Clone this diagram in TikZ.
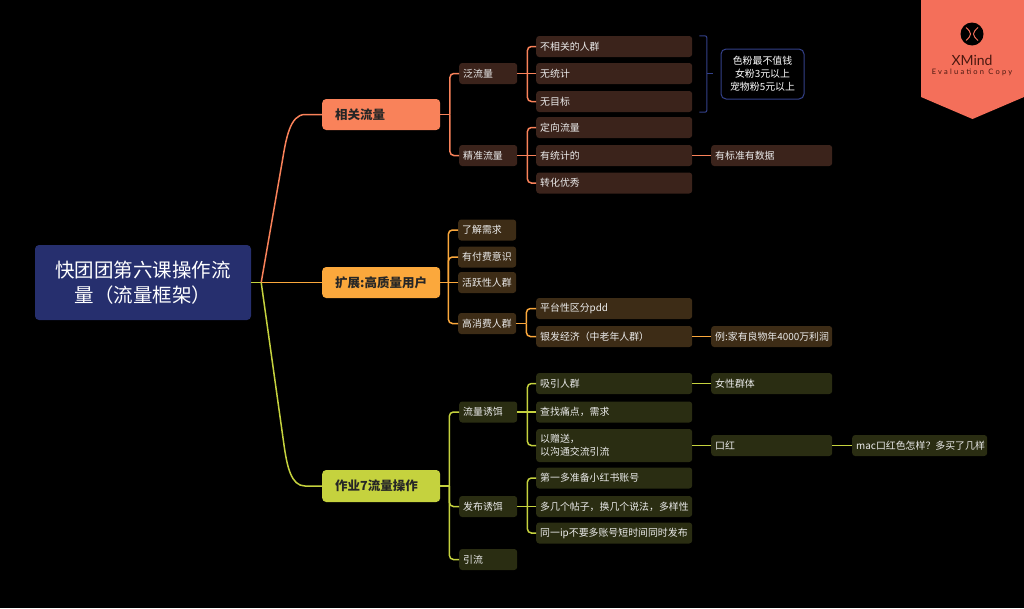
\documentclass[tikz,border=0pt]{standalone}
\usepackage{fontspec}
\newfontfamily\cjk{Noto Sans CJK SC}
\newfontfamily\xmfont{Lato}
\definecolor{bgC}{HTML}{000000}
\definecolor{rootC}{HTML}{262F6E}
\definecolor{colA}{HTML}{F9825A}
\definecolor{colB}{HTML}{FBA83C}
\definecolor{colC}{HTML}{C5D23E}
\definecolor{brA}{HTML}{3B231B}
\definecolor{brB}{HTML}{3D2C16}
\definecolor{brC}{HTML}{2A2D12}
\definecolor{bracketC}{HTML}{34418A}
\definecolor{badgeC}{HTML}{F46F5A}
\definecolor{badgeT}{HTML}{4A1810}
\tikzset{
  rootbox/.style={fill=rootC, rounded corners=4pt, minimum width=216pt, minimum height=75pt,
    inner sep=0pt, text=white, align=center, font=\cjk\fontsize{19.5}{25}\selectfont},
  topic/.style={rounded corners=4pt, anchor=west, minimum height=31pt, inner xsep=13pt,
    inner ysep=0pt, text width=92pt, align=left, text=black!85,
    font=\cjk\bfseries\fontsize{12.5}{15}\selectfont},
  subn/.style={rounded corners=3pt, anchor=west, minimum height=21pt, inner xsep=4pt,
    inner ysep=0pt, align=left, text=white!92!black, font=\cjk\fontsize{9.9}{13}\selectfont},
  wa/.style={text width=50pt},
  wb/.style={text width=148pt},
  wc/.style={text width=113pt},
  wd/.style={text width=127pt},
  sA/.style={subn, fill=brA},
  sB/.style={subn, fill=brB},
  sC/.style={subn, fill=brC},
  lnA/.style={draw=colA, line width=1.5pt},
  lnB/.style={draw=colB, line width=1.5pt},
  lnC/.style={draw=colC, line width=1.5pt},
  bus/.style={rounded corners=4pt},
}
\begin{document}
\begin{tikzpicture}[x=1pt,y=-1pt]
\fill[bgC] (0,0) rectangle (1024,608);
\useasboundingbox (0,0) rectangle (1024,608);

% root
\node[rootbox] (root) at (143,282.5) {快团团第六课操作流\\量（流量框架）};

% main topics
\node[topic, fill=colA] (t1) at (322,114.5) {相关流量};
\node[topic, fill=colB] (t2) at (322,282.5) {扩展:高质量用户};
\node[topic, fill=colC, minimum height=32pt] (t3) at (322,486) {作业7流量操作};

% branch A
\node[sA, wa] (a1) at (459,73.5) {泛流量};
\node[sA, wa] (a2) at (459,155.5) {精准流量};
\node[sA, wb] (a11) at (536,46.5) {不相关的人群};
\node[sA, wb] (a12) at (536,73.5) {无统计};
\node[sA, wb] (a13) at (536,101.5) {无目标};
\node[sA, wb] (a21) at (536,127.5) {定向流量};
\node[sA, wb] (a22) at (536,155.5) {有统计的};
\node[sA, wb] (a23) at (536,183) {转化优秀};
\node[sA, wc] (a221) at (711,155.5) {有标准有数据};
\node[draw=bracketC, line width=1pt, fill=black, rounded corners=5pt, minimum width=83pt,
  minimum height=50pt, inner sep=0pt, align=center, text=white,
  font=\cjk\fontsize{9.9}{13}\selectfont] (sum) at (762.5,74) {色粉最不值钱\\女粉3元以上\\宠物粉5元以上};

% branch B
\node[sB, wa] (b1) at (458,230) {了解需求};
\node[sB, wa] (b2) at (458,257) {有付费意识};
\node[sB, wa] (b3) at (458,282.5) {活跃性人群};
\node[sB, wa] (b4) at (458,323.5) {高消费人群};
\node[sB, wb] (b41) at (536,308.5) {平台性区分pdd};
\node[sB, wb] (b42) at (536,336.5) {银发经济（中老年人群）};
\node[sB, wc] (b421) at (711,336.5) {例:家有良物年4000万利润};

% branch C
\node[sC, wa] (c1) at (459,412) {流量诱饵};
\node[sC, wa] (c2) at (459,506.5) {发布诱饵};
\node[sC, wa] (c3) at (459,559.5) {引流};
\node[sC, wb] (c11) at (536,383.5) {吸引人群};
\node[sC, wb] (c12) at (536,412) {查找痛点，需求};
\node[sC, wb, minimum height=33pt] (c13) at (536,445.5) {以赠送，\\以沟通交流引流};
\node[sC, wb] (c21) at (536,478) {第一多准备小红书账号};
\node[sC, wb] (c22) at (536,506.5) {多几个帖子，换几个说法，多样性};
\node[sC, wb] (c23) at (536,533) {同一ip不要多账号短时间同时发布};
\node[sC, wc] (c111) at (711,383.5) {女性群体};
\node[sC, wc] (c131) at (711,445.5) {口红};
\node[sC, wd] (c1311) at (852,445.5) {mac口红色怎样？多买了几样};

% root connectors
\coordinate (rb) at ([xshift=10pt]root.east);
\draw[lnC] (root.east) -- (rb);
\draw[lnB] (rb) -- (t2.west);
\draw[lnA] (rb) -- (282.5,160) .. controls (286,139) and (290,114.5) .. (305,114.5) -- (t1.west);
\draw[lnC] (rb) -- (284,445) .. controls (287,466) and (291,486) .. (305,486) -- (t3.west);

% branch A connectors
\coordinate (ja) at ([xshift=9.5pt]t1.east);
\draw[lnA] (t1.east) -- (ja);
\draw[lnA, bus] (ja) |- (a1.west);
\draw[lnA, bus] (ja) |- (a2.west);
\coordinate (ja1) at ([xshift=10pt]a1.east);
\draw[lnA] (a1.east) -- (a12.west);
\draw[lnA, bus] (ja1) |- (a11.west);
\draw[lnA, bus] (ja1) |- (a13.west);
\coordinate (ja2) at ([xshift=10pt]a2.east);
\draw[lnA] (a2.east) -- (a22.west);
\draw[lnA, bus] (ja2) |- (a21.west);
\draw[lnA, bus] (ja2) |- (a23.west);
\draw[lnA] (a22.east) -- (a221.west);
% summary bracket
\draw[draw=bracketC, line width=1pt, rounded corners=2pt]
  ([xshift=7pt]a11.north east) -- ([xshift=14.5pt]a11.north east)
  -- ([xshift=14.5pt]a13.south east) -- ([xshift=7pt]a13.south east);
\draw[draw=bracketC, line width=1pt] ([xshift=14.5pt]a12.east) -- ([xshift=21pt]a12.east);

% branch B connectors
\coordinate (jb) at ([xshift=8pt]t2.east);
\draw[lnB] (t2.east) -- (b3.west);
\draw[lnB, bus] (jb) |- (b1.west);
\draw[lnB, bus] (jb) |- (b2.west);
\draw[lnB, bus] (jb) |- (b4.west);
\coordinate (jb4) at ([xshift=10pt]b4.east);
\draw[lnB] (b4.east) -- (jb4);
\draw[lnB, bus] (jb4) |- (b41.west);
\draw[lnB, bus] (jb4) |- (b42.west);
\draw[lnB] (b42.east) -- (b421.west);

% branch C connectors
\coordinate (jc) at ([xshift=9pt]t3.east);
\draw[lnC] (t3.east) -- (jc);
\draw[lnC, bus] (jc) |- (c1.west);
\draw[lnC, bus] (jc) |- (c2.west);
\draw[lnC, bus] (jc) |- (c3.west);
\coordinate (jc1) at ([xshift=10pt]c1.east);
\draw[lnC] (c1.east) -- (c12.west);
\draw[lnC, bus] (jc1) |- (c11.west);
\draw[lnC, bus] (jc1) |- (c13.west);
\coordinate (jc2) at ([xshift=10pt]c2.east);
\draw[lnC] (c2.east) -- (c22.west);
\draw[lnC, bus] (jc2) |- (c21.west);
\draw[lnC, bus] (jc2) |- (c23.west);
\draw[lnC] (c11.east) -- (c111.west);
\draw[lnC] (c13.east) -- (c131.west);
\draw[lnC] (c131.east) -- (c1311.west);

% XMind badge
\fill[badgeC] (921,0) -- (1024,0) -- (1024,97) -- (972.5,119) -- (921,97) -- cycle;
\node[circle, fill=black, minimum size=23pt, inner sep=0pt] (logo) at (972,34) {};
\draw[badgeC, line width=1pt] (966,27.5) .. controls (972,33) and (972,35) .. (966,40.5);
\draw[badgeC, line width=1pt] (978,27.5) .. controls (972,33) and (972,35) .. (978,40.5);
\node[text=badgeT, inner sep=0pt, font=\xmfont\fontsize{14}{16}\selectfont] (xm) at (972,60) {XMind};
\node[text=badgeT, inner sep=0pt, font=\xmfont\fontsize{7.5}{8}\selectfont\addfontfeatures{LetterSpace=30}] (ev) at (972,72.5) {Evaluation Copy};
\end{tikzpicture}
\end{document}
